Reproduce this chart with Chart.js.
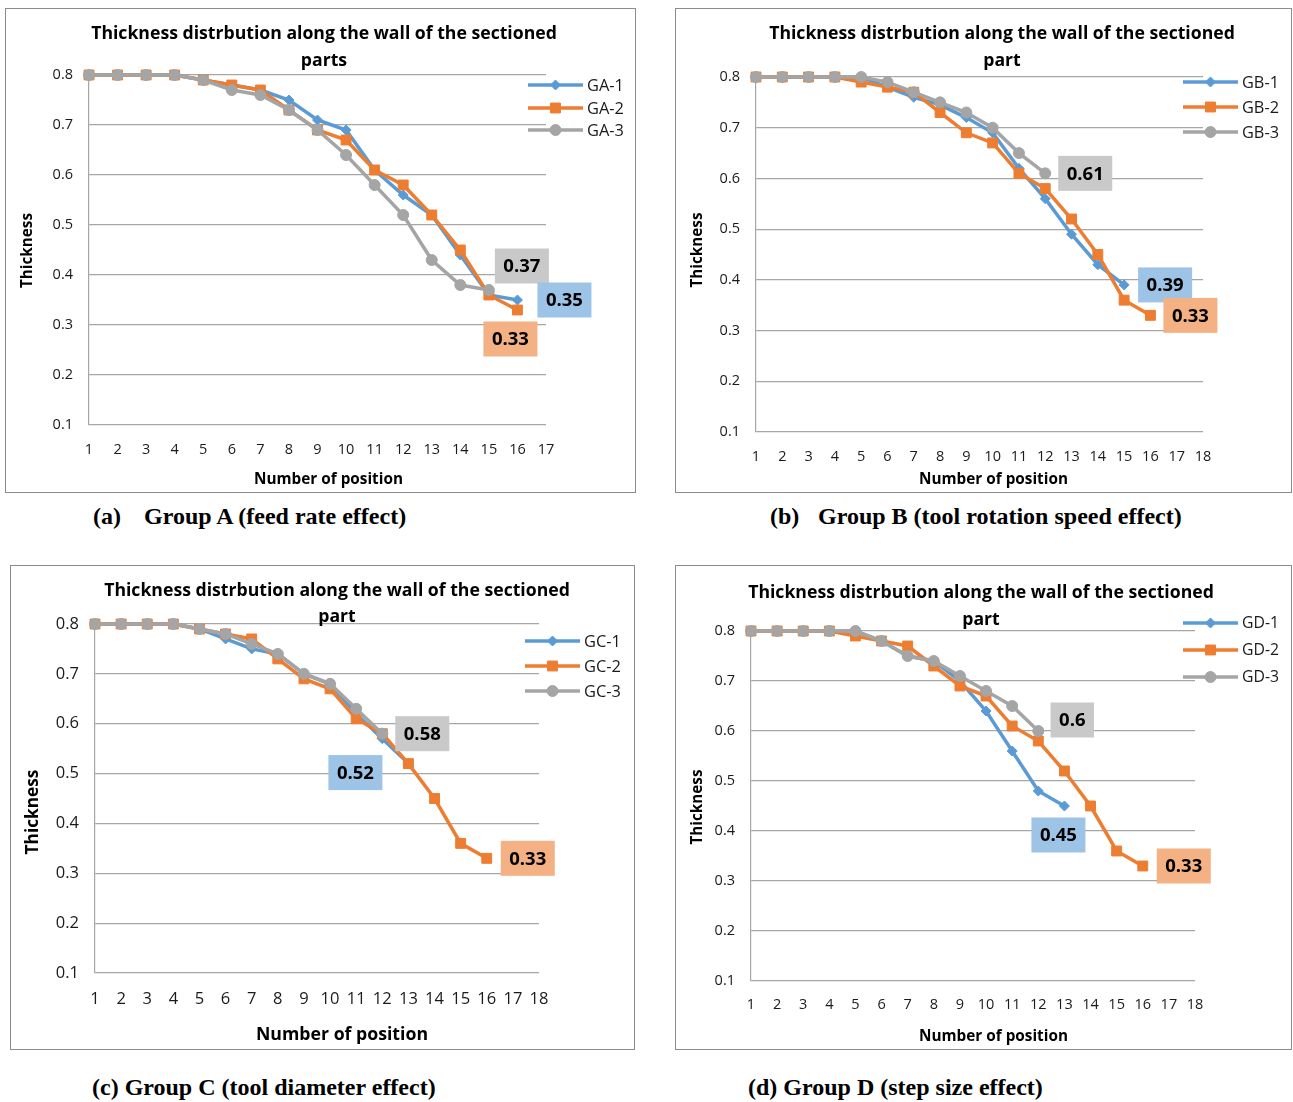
<!DOCTYPE html>
<html><head><meta charset="utf-8">
<script src="https://cdn.jsdelivr.net/npm/chart.js@4.4.0/dist/chart.umd.min.js"></script>
<style>
body{margin:0;width:1293px;height:1102px;background:#fff;position:relative;overflow:hidden;}
.panel{position:absolute;border:1px solid #8c8c8c;box-sizing:border-box;background:#fff;}
.panel canvas{display:block}
.cap{position:absolute;font-family:"Liberation Serif","Times New Roman",serif;font-weight:bold;font-size:24px;line-height:28px;white-space:pre;color:#000}
</style></head>
<body>
<div class="panel" id="pA" style="left:5px;top:8px;width:631px;height:485px"><canvas id="cA" width="629" height="483"></canvas></div>
<div class="panel" id="pB" style="left:675px;top:8px;width:617px;height:485px"><canvas id="cB" width="615" height="483"></canvas></div>
<div class="panel" id="pC" style="left:10px;top:565px;width:625px;height:485px"><canvas id="cC" width="623" height="483"></canvas></div>
<div class="panel" id="pD" style="left:675px;top:565px;width:617px;height:485px"><canvas id="cD" width="615" height="483"></canvas></div>
<div class="cap" style="left:93px;top:502px">(a)</div>
<div class="cap" style="left:144px;top:502px">Group A (feed rate effect)</div>
<div class="cap" style="left:770px;top:502px">(b)</div>
<div class="cap" style="left:818px;top:502px">Group B (tool rotation speed effect)</div>
<div class="cap" style="left:92px;top:1073px">(c) Group C (tool diameter effect)</div>
<div class="cap" style="left:748px;top:1073px">(d) Group D (step size effect)</div>
<script>
// ---- data ----
const positions17 = ['1','2','3','4','5','6','7','8','9','10','11','12','13','14','15','16','17'];
const positions18 = ['1','2','3','4','5','6','7','8','9','10','11','12','13','14','15','16','17','18'];
const yTickValues = [0.1,0.2,0.3,0.4,0.5,0.6,0.7,0.8];
const yTickLabels = ['0.1','0.2','0.3','0.4','0.5','0.6','0.7','0.8'];
const titleLine1 = 'Thickness distrbution along the wall of the sectioned';
const titleEndA = 'parts';
const titleEnd = 'part';
const yAxisTitle = 'Thickness';
const xAxisTitle = 'Number of position';

const namesA = ['GA-1','GA-2','GA-3'];
const gA1 = [0.8,0.8,0.8,0.8,0.79,0.78,0.77,0.75,0.71,0.69,0.61,0.56,0.52,0.44,0.36,0.35];
const gA2 = [0.8,0.8,0.8,0.8,0.79,0.78,0.77,0.73,0.69,0.67,0.61,0.58,0.52,0.45,0.36,0.33];
const gA3 = [0.8,0.8,0.8,0.8,0.79,0.77,0.76,0.73,0.69,0.64,0.58,0.52,0.43,0.38,0.37];

const namesB = ['GB-1','GB-2','GB-3'];
const gB1 = [0.8,0.8,0.8,0.8,0.8,0.78,0.76,0.745,0.72,0.69,0.62,0.56,0.49,0.43,0.39];
const gB2 = [0.8,0.8,0.8,0.8,0.79,0.78,0.77,0.73,0.69,0.67,0.61,0.58,0.52,0.45,0.36,0.33];
const gB3 = [0.8,0.8,0.8,0.8,0.8,0.79,0.77,0.75,0.73,0.70,0.65,0.61];

const namesC = ['GC-1','GC-2','GC-3'];
const gC1 = [0.8,0.8,0.8,0.8,0.79,0.77,0.75,0.74,0.70,0.68,0.62,0.57,0.52];
const gC2 = [0.8,0.8,0.8,0.8,0.79,0.78,0.77,0.73,0.69,0.67,0.61,0.58,0.52,0.45,0.36,0.33];
const gC3 = [0.8,0.8,0.8,0.8,0.79,0.78,0.76,0.74,0.70,0.68,0.63,0.58];

const namesD = ['GD-1','GD-2','GD-3'];
const gD1 = [0.8,0.8,0.8,0.8,0.8,0.78,0.75,0.74,0.70,0.64,0.56,0.48,0.45];
const gD2 = [0.8,0.8,0.8,0.8,0.79,0.78,0.77,0.73,0.69,0.67,0.61,0.58,0.52,0.45,0.36,0.33];
const gD3 = [0.8,0.8,0.8,0.8,0.8,0.78,0.75,0.74,0.71,0.68,0.65,0.60];

// ---- styles ----
const FONT = '"Open Sans"';
const colors = ['#5B9BD5','#ED7D31','#A5A5A5'];
const boxColors = ['#9DC3E6','#F4B183','#C9C9C9'];
const pointStyles = ['rectRot','rect','circle'];
const pointRadii = [5,7,5.5];
const GRID = '#a6a6a6';

function fitFont(ctx, text, weight, target){
  ctx.font = `${weight} 100px ${FONT}`;
  const w = ctx.measureText(text).width;
  return `${weight} ${(100*target/w).toFixed(2)}px ${FONT}`;
}

const decor = {
  id:'decor',
  afterDraw(chart, args, o){
    const ctx = chart.ctx;
    ctx.save();
    ctx.fillStyle = '#000'; ctx.textAlign='center'; ctx.textBaseline='middle';
    // chart title
    ctx.font = fitFont(ctx, o.title[0], 'bold', o.titleW);
    o.title.forEach((t,i)=> ctx.fillText(t, o.titleX, o.titleY[i] + 2));
    // axis titles
    ctx.font = fitFont(ctx, xAxisTitle, 'bold', o.xTitleW);
    ctx.fillText(xAxisTitle, o.xTitlePos[0], o.xTitlePos[1] + 2);
    ctx.save();
    ctx.translate(o.yTitlePos[0] + 1, o.yTitlePos[1]); ctx.rotate(-Math.PI/2);
    ctx.font = fitFont(ctx, yAxisTitle, 'bold', o.yTitleW);
    ctx.fillText(yAxisTitle, 0, 0);
    ctx.restore();
    // legend
    chart.data.datasets.forEach((ds,i)=>{
      const y = o.legY[i];
      ctx.strokeStyle = ds.borderColor; ctx.lineWidth = ds.borderWidth;
      ctx.beginPath(); ctx.moveTo(o.legX0, y); ctx.lineTo(o.legX0+55, y); ctx.stroke();
      ctx.fillStyle = ds.borderColor; ctx.strokeStyle = ds.borderColor; ctx.lineWidth = 1;
      Chart.helpers.drawPoint(ctx, {pointStyle: ds.pointStyle, radius: ds.pointRadius, rotation:0, borderWidth:1}, o.legX0+27.5, y);
      ctx.fillStyle = '#1a1a1a'; ctx.textAlign='left';
      ctx.font = fitFont(ctx, ds.label, 'normal', o.legW);
      ctx.fillText(ds.label, o.legX0+59, y+1);
    });
    // value boxes on the last point of each series
    o.boxes.forEach(b=>{
      const data = chart.data.datasets[b.ds].data;
      const idx = data.length - 1;
      const pt = chart.getDatasetMeta(b.ds).data[idx];
      const text = String(data[idx]);
      ctx.font = `bold ${o.boxSize}px ${FONT}`;
      const w = ctx.measureText(text).width + 17, h = 35;
      const cx = pt.x + b.dx, cy = pt.y + b.dy;
      ctx.fillStyle = boxColors[b.ds];
      ctx.fillRect(cx - w/2, cy - h/2, w, h);
      ctx.fillStyle = '#000'; ctx.textAlign='center';
      ctx.fillText(text, cx, cy + 1);
    });
    ctx.restore();
  }
};

function makeChart(id, labels, series, names, L){
  const datasets = series.map((d,i)=>({
    label:names[i], data:d, borderColor:colors[i], backgroundColor:colors[i],
    borderWidth:3.5, pointStyle:pointStyles[i], pointRadius:pointRadii[i],
    pointBackgroundColor:colors[i], pointBorderColor:colors[i], pointBorderWidth:1,
    tension:0, order:3-i, clip:false
  }));
  new Chart(document.getElementById(id), {
    type:'line',
    data:{labels, datasets},
    plugins:[decor],
    options:{
      responsive:false, animation:false, devicePixelRatio:1,
      layout:{padding:{top:L.padT, right:L.padR, left:0, bottom:0}},
      plugins:{legend:{display:false}, tooltip:{enabled:false}, title:{display:false},
        decor:{title:[titleLine1, L.titleEnd], titleX:L.titleX, titleY:L.titleY, titleW:466,
          xTitlePos:L.xTitlePos, xTitleW:L.xTitleW, yTitlePos:L.yTitlePos, yTitleW:L.yTitleW,
          legX0:L.legX0, legY:L.legY, legW:37,
          boxes:L.boxes, boxSize:18.5}},
      scales:{
        x:{type:'category', offset:false,
          grid:{display:false, drawTicks:false},
          border:{display:false},
          ticks:{color:'#1a1a1a', font:{family:FONT, size:L.tickSize}, padding:L.xTickPad, maxRotation:0, autoSkip:false},
          afterFit:s=>{ s.height = L.xH; }
        },
        y:{min:0.1, max:0.8,
          afterBuildTicks:s=>{ s.ticks = yTickValues.map(v=>({value:v})); },
          grid:{color:GRID, lineWidth:1.2, drawTicks:false},
          border:{display:true, color:GRID, width:1.2},
          ticks:{color:'#1a1a1a', font:{family:FONT, size:L.tickSize}, padding:L.yTickPad, callback:(v,i)=>yTickLabels[i]},
          afterFit:s=>{ s.width = L.yW; }
        }
      }
    }
  });
}

makeChart('cA', positions17, [gA1,gA2,gA3], namesA, {
  padT:66, padR:89, yW:83, xH:67, titleEnd:titleEndA, titleX:318, titleY:[23,50],
  xTitlePos:[322.5,469], xTitleW:149, yTitlePos:[21,241.5], yTitleW:75,
  legX0:522, legY:[76,99,121], tickSize:14.5, xTickPad:16, yTickPad:16,
  boxes:[{ds:2,dx:33,dy:-24},{ds:0,dx:47,dy:0},{ds:1,dx:-7,dy:29}]
});
makeChart('cB', positions18, [gB1,gB2,gB3], namesB, {
  padT:68, padR:88, yW:80, xH:60, titleEnd:titleEnd, titleX:326, titleY:[23,50],
  xTitlePos:[317.5,469], xTitleW:149, yTitlePos:[21,241], yTitleW:75,
  legX0:507, legY:[73,98,123], tickSize:14.5, xTickPad:16, yTickPad:16,
  boxes:[{ds:2,dx:40,dy:0},{ds:0,dx:41,dy:0},{ds:1,dx:40,dy:0}]
});
makeChart('cC', positions18, [gC1,gC2,gC3], namesC, {
  padT:58, padR:95, yW:84, xH:76, titleEnd:titleEnd, titleX:326, titleY:[23,49],
  xTitlePos:[331,467], xTitleW:172, yTitlePos:[21,246], yTitleW:85,
  legX0:514, legY:[75,100,125], tickSize:16.5, xTickPad:16, yTickPad:16,
  boxes:[{ds:2,dx:40,dy:0},{ds:0,dx:-53,dy:9},{ds:1,dx:41,dy:0}]
});
makeChart('cD', positions18, [gD1,gD2,gD3], namesD, {
  padT:65, padR:96, yW:75, xH:68, titleEnd:titleEnd, titleX:305, titleY:[25,52],
  xTitlePos:[317.5,469], xTitleW:149, yTitlePos:[21,241], yTitleW:75,
  legX0:507, legY:[57,84,111], tickSize:14.5, xTickPad:15, yTickPad:16,
  boxes:[{ds:2,dx:34,dy:-11},{ds:0,dx:-6,dy:29},{ds:1,dx:41,dy:0}]
});
</script>
</body></html>
